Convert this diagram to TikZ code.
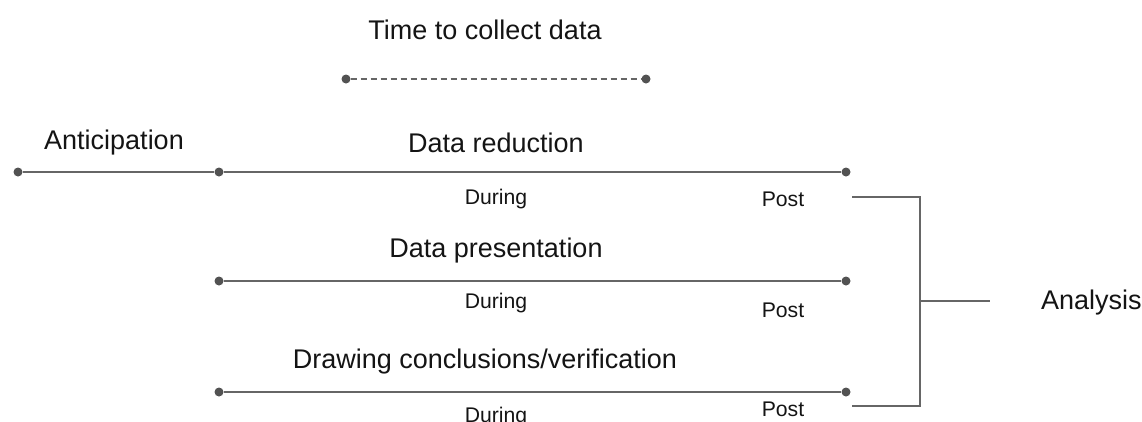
\documentclass[tikz,border=0pt]{standalone}
\usepackage{fontspec}
\setmainfont{Liberation Sans}
\begin{document}
\begin{tikzpicture}[x=1pt,y=-1pt,
  dot/.style={circle,fill=black!68,inner sep=0pt,minimum size=9pt},
  link/.style={draw=black!60,line width=1.6pt},
  big/.style={font=\fontsize{27}{31}\selectfont,text=black!92,inner sep=0pt},
  small/.style={font=\fontsize{21.2}{25}\selectfont,text=black!92,inner sep=0pt}]
\useasboundingbox (0,0) rectangle (1142,421);

% collection window
\node[big] (title) at (485,30) {Time to collect data};
\node[dot] (c1) at (346,79) {};
\node[dot] (c2) at (646,79) {};
\draw[link,dash pattern=on 6pt off 4pt] (c1) -- (c2);

% anticipation and the three phases
\node[dot] (a0) at (18,172) {};
\node[dot] (a1) at (219,172) {};
\node[dot] (r1) at (846,172) {};
\node[dot] (p0) at (219,281) {};
\node[dot] (p1) at (846,281) {};
\node[dot] (d0) at (219,392) {};
\node[dot] (d1) at (846,392) {};
\draw[link] (a0) -- (a1);
\draw[link] (a1) -- (r1);
\draw[link] (p0) -- (p1);
\draw[link] (d0) -- (d1);

\node[big] (ant) at (114,143) {Anticipation};
\node[big] (red) at (496,143) {Data reduction};
\node[big] (pre) at (496,251) {Data presentation};
\node[big] (con) at (485,362) {Drawing conclusions/verification};

\node[small] (dr1) at (496,199) {During};
\node[small] (po1) at (783,199) {Post};
\node[small] (dr2) at (496,303) {During};
\node[small] (po2) at (783,310) {Post};
\node[small] (dr3) at (496,417) {During};
\node[small] (po3) at (783,409) {Post};

% bracket gathering the post phases
\coordinate (b1) at (852,197);
\coordinate (b3) at (852,406);
\coordinate (bt) at (920,197);
\coordinate (bb) at (920,406);
\coordinate (bm) at (920,301);
\coordinate (be) at (990,301);
\draw[draw=black!60,line width=1.6pt] (b1) -- (bt) -- (bb) -- (b3);
\draw[link] (bm) -- (be);
\node[big,anchor=west] (ana) at (1041,303) {Analysis};
\end{tikzpicture}
\end{document}
